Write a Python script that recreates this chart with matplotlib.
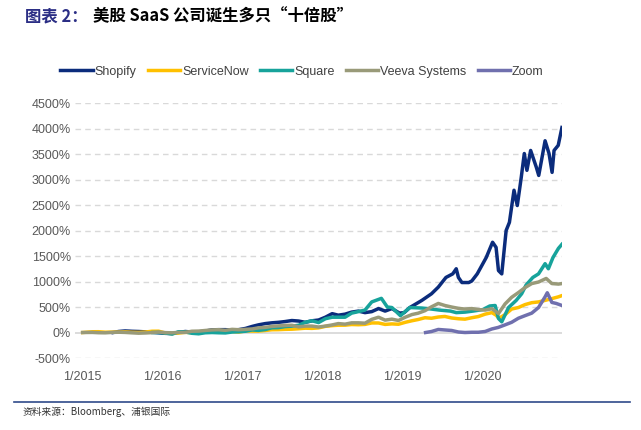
import pandas as pd
import matplotlib
matplotlib.use('Agg')
import matplotlib.pyplot as plt

plt.rcParams['font.family'] = ['Liberation Sans', 'Noto Sans CJK SC', 'DejaVu Sans']

# cumulative return since 1/2015 (or IPO), in %
shop_dates = ['2015-05-21', '2015-06-15', '2015-07-15', '2015-08-15', '2015-09-15', '2015-10-15',
              '2015-11-15', '2015-12-15',
              '2016-01-15', '2016-02-15', '2016-03-15', '2016-04-15', '2016-05-15', '2016-06-15',
              '2016-07-15', '2016-08-15', '2016-09-15', '2016-10-15', '2016-11-15', '2016-12-15',
              '2017-01-15', '2017-02-15', '2017-03-15', '2017-04-15', '2017-05-15', '2017-06-15',
              '2017-07-15', '2017-08-15', '2017-09-15', '2017-10-15', '2017-11-15', '2017-12-15',
              '2018-01-15', '2018-02-15', '2018-03-15', '2018-04-15', '2018-05-15', '2018-06-15',
              '2018-07-15', '2018-08-15', '2018-09-15', '2018-10-15', '2018-11-15', '2018-12-20',
              '2019-01-10', '2019-02-05', '2019-04-01', '2019-05-15', '2019-06-15', '2019-07-20',
              '2019-08-20', '2019-09-05', '2019-09-15', '2019-10-01', '2019-11-01', '2019-11-15',
              '2019-12-10', '2020-01-20', '2020-02-18', '2020-03-05', '2020-03-16', '2020-03-31',
              '2020-04-20', '2020-05-05', '2020-05-26', '2020-06-10', '2020-06-28', '2020-07-12',
              '2020-07-24', '2020-08-10', '2020-09-05', '2020-09-16', '2020-10-15', '2020-11-02',
              '2020-11-16', '2020-11-25', '2020-12-14', '2020-12-31']
shop_vals = [0, 20, 31, 24, 20, 13, 5, -5,
             -16, -20, 2, 20, 9, 13, 27, 53, 56, 56, 49, 56,
             80, 120, 150, 175, 190, 200, 215, 235, 225, 200, 230, 245,
             300, 370, 340, 360, 400, 420, 390, 410, 470, 420, 470, 380,
             390, 490, 630, 760, 890, 1080,
             1150, 1250, 1080, 980, 980, 1010,
             1150, 1470, 1770, 1670, 1215, 1150,
             2000, 2160, 2790, 2490, 3040, 3510,
             3180, 3570, 3240, 3080, 3760, 3510,
             3140, 3570, 3670, 4020]

now_dates = ['2015-01-02', '2015-02-15', '2015-03-15', '2015-04-15', '2015-05-15', '2015-06-15',
             '2015-07-15', '2015-08-15', '2015-09-15', '2015-10-15', '2015-11-15', '2015-12-15',
             '2016-01-15', '2016-02-15', '2016-03-15', '2016-04-15', '2016-05-15', '2016-06-15',
             '2016-07-15', '2016-08-15', '2016-09-15', '2016-10-15', '2016-11-15', '2016-12-15',
             '2017-01-15', '2017-02-15', '2017-03-15', '2017-04-15', '2017-05-15', '2017-06-15',
             '2017-07-15', '2017-08-15', '2017-09-15', '2017-10-15', '2017-11-15', '2017-12-15',
             '2018-01-15', '2018-02-15', '2018-03-15', '2018-04-15', '2018-05-15', '2018-06-15',
             '2018-07-15', '2018-08-15', '2018-09-15', '2018-10-15', '2018-11-15', '2018-12-15',
             '2019-01-15', '2019-02-15', '2019-03-15', '2019-04-15', '2019-05-15', '2019-06-15',
             '2019-07-15', '2019-08-15', '2019-09-15', '2019-10-15', '2019-11-15', '2019-12-15',
             '2020-01-15', '2020-02-15', '2020-03-05', '2020-03-18', '2020-04-15', '2020-05-15',
             '2020-06-15', '2020-07-15', '2020-08-15', '2020-09-15', '2020-10-15', '2020-11-15',
             '2020-12-15', '2020-12-31']
now_vals = [0, 15, 16, 6, 9, 9, 13, 6, 3, 9, 25, 26,
            -9, -19, -10, 4, -1, -3, 9, 12, 16, 28, 21, 9,
            32, 28, 28, 40, 54, 56, 62, 65, 74, 85, 81, 91,
            121, 135, 143, 144, 157, 153, 159, 188, 187, 159, 169, 162,
            200, 231, 255, 290, 280, 304, 315, 285, 270, 262, 290, 313,
            360, 390, 340, 280, 350, 460, 490, 547, 585, 600, 630, 665,
            700, 724]

sq_dates = ['2015-11-19', '2015-12-15',
            '2016-01-15', '2016-02-15', '2016-03-15', '2016-04-15', '2016-05-15', '2016-06-15',
            '2016-07-15', '2016-08-15', '2016-09-15', '2016-10-15', '2016-11-15', '2016-12-15',
            '2017-01-15', '2017-02-15', '2017-03-15', '2017-04-15', '2017-05-15', '2017-06-15',
            '2017-07-15', '2017-08-15', '2017-09-15', '2017-10-15', '2017-11-15', '2017-12-15',
            '2018-01-15', '2018-02-15', '2018-03-15', '2018-04-15', '2018-05-15', '2018-06-15',
            '2018-07-15', '2018-08-15', '2018-09-28', '2018-10-25', '2018-11-15', '2018-12-24',
            '2019-02-05', '2019-04-01', '2019-05-15', '2019-06-20', '2019-08-10', '2019-09-05',
            '2019-10-15', '2019-11-20', '2020-01-05', '2020-02-05', '2020-03-01', '2020-03-16',
            '2020-03-31', '2020-05-01', '2020-06-05', '2020-06-30', '2020-07-20', '2020-08-20',
            '2020-09-15', '2020-10-15', '2020-10-30', '2020-11-20', '2020-12-15', '2020-12-31']
sq_vals = [0, 0,
           -10, -30, 15, 10, -15, -25, -5, 0, -5, -8, 10, 15,
           25, 50, 42, 58, 92, 96, 117, 125, 142, 200, 230, 195,
           270, 300, 300, 300, 380, 410, 440, 600, 670, 500, 490, 330,
           490, 480, 460, 440, 420, 390, 400, 420, 450, 520, 530, 275,
           210, 490, 630, 760, 930, 1080, 1150, 1350, 1250, 1470, 1650, 1730]

veev_dates = ['2015-01-02', '2015-02-15', '2015-03-15', '2015-04-15', '2015-05-15', '2015-06-15',
              '2015-07-15', '2015-08-15', '2015-09-15', '2015-10-15', '2015-11-15', '2015-12-15',
              '2016-01-15', '2016-02-15', '2016-03-15', '2016-04-15', '2016-05-15', '2016-06-15',
              '2016-07-15', '2016-08-15', '2016-09-15', '2016-10-15', '2016-11-15', '2016-12-15',
              '2017-01-15', '2017-02-15', '2017-03-15', '2017-04-15', '2017-05-15', '2017-06-15',
              '2017-07-15', '2017-08-15', '2017-09-15', '2017-10-15', '2017-11-15', '2017-12-15',
              '2018-01-15', '2018-02-15', '2018-03-15', '2018-04-15', '2018-05-15', '2018-06-15',
              '2018-07-15', '2018-08-15', '2018-09-15', '2018-10-15', '2018-11-15', '2018-12-15',
              '2019-01-15', '2019-02-15', '2019-03-15', '2019-04-15', '2019-05-15', '2019-06-15',
              '2019-07-15', '2019-08-15', '2019-09-15', '2019-10-15', '2019-11-15', '2019-12-15',
              '2020-01-15', '2020-02-15', '2020-03-16', '2020-04-15', '2020-05-15', '2020-06-15',
              '2020-07-15', '2020-08-15', '2020-09-15', '2020-10-20', '2020-11-15', '2020-12-15',
              '2020-12-31']
veev_vals = [0, 2, -4, -6, 2, 6, 2, -6, -13, -9, -2, 9,
             -2, -6, 2, 2, 25, 28, 40, 51, 55, 43, 62, 55,
             62, 70, 92, 100, 119, 130, 138, 142, 111, 126, 126, 108,
             126, 149, 175, 164, 190, 190, 183, 258, 300, 243, 262, 236,
             300, 353, 379, 428, 504, 570, 530, 500, 474, 460, 470, 450,
             440, 466, 372, 560, 690, 783, 880, 960, 990, 1060, 960, 950,
             960]

zoom_dates = ['2019-04-18', '2019-05-15', '2019-06-15', '2019-07-15', '2019-08-15', '2019-09-15',
              '2019-10-15', '2019-11-15', '2019-12-15', '2020-01-15', '2020-02-15', '2020-03-15',
              '2020-04-15', '2020-05-15', '2020-06-15', '2020-07-15', '2020-08-15', '2020-09-15',
              '2020-10-15', '2020-10-25', '2020-11-15', '2020-12-05', '2020-12-31']
zoom_vals = [0, 20, 60, 50, 40, 10, 0, 5, 5, 20, 70, 100,
             150, 200, 280, 330, 380, 490, 700, 780, 590, 570, 530]

series = [('Shopify', shop_dates, shop_vals, '#0B2C7C'),
          ('ServiceNow', now_dates, now_vals, '#FFC000'),
          ('Square', sq_dates, sq_vals, '#17A39B'),
          ('Veeva Systems', veev_dates, veev_vals, '#999A79'),
          ('Zoom', zoom_dates, zoom_vals, '#7070AE')]

fig = plt.figure(figsize=(6.41, 4.30), dpi=100)
ax = fig.add_axes([0.117, 0.1674, 0.760, 0.593])

for name, d, v, c in series:
    ax.plot(pd.to_datetime(d), v, color=c, lw=2.5, label=name, solid_joinstyle='round')

ax.set_ylim(-500, 4500)
ax.set_yticks(range(-500, 4501, 500))
ax.set_yticklabels([f'{t}%' for t in range(-500, 4501, 500)])
for t in range(-500, 4501, 500):
    if t == 0:
        ax.axhline(0, color='#D9D9D9', lw=1.3, zorder=0)
    else:
        ax.axhline(t, color='#D9D9D9', lw=1.0, ls=(0, (4, 3)), zorder=0)

ax.set_xlim(pd.Timestamp('2014-11-28'), pd.Timestamp('2021-01-01'))
years = [pd.Timestamp(f'{y}-01-01') for y in range(2015, 2021)]
ax.set_xticks(years)
ax.set_xticklabels([f'1/{y}' for y in range(2015, 2021)])

for s in ax.spines.values():
    s.set_visible(False)
ax.tick_params(axis='both', length=0, labelsize=9, colors='#595959')
ax.tick_params(axis='x', pad=9)
ax.tick_params(axis='y', pad=3)

fig.legend(loc='center', bbox_to_anchor=(0.471, 0.833), ncol=5, frameon=False,
           handlelength=2.6, handletextpad=0.15, columnspacing=0.9,
           prop={'size': 9}, labelcolor='#404040')

# title
fig.text(25 / 641, 1 - 16 / 430, '图表 2：', fontsize=11.8, fontweight='bold', color='#2B2E85',
         family=['Noto Sans CJK SC', 'DejaVu Sans'], va='center')
fig.text(93 / 641, 1 - 16 / 430, '美股 SaaS 公司诞生多只“十倍股”', fontsize=11.8, fontweight='bold',
         color='black', family=['Noto Sans CJK SC', 'DejaVu Sans'], va='center')

# bottom rule and source
fig.add_artist(plt.Line2D([14 / 641, 630 / 641], [1 - 402 / 430, 1 - 402 / 430],
                          color='#2F4A8A', lw=1.2))
fig.text(23 / 641, 1 - 412 / 430, '资料来源：Bloomberg、浦银国际', fontsize=7, color='#333333',
         family=['Noto Sans CJK SC', 'DejaVu Sans'], va='center')

fig.savefig('out.png', dpi=100)
